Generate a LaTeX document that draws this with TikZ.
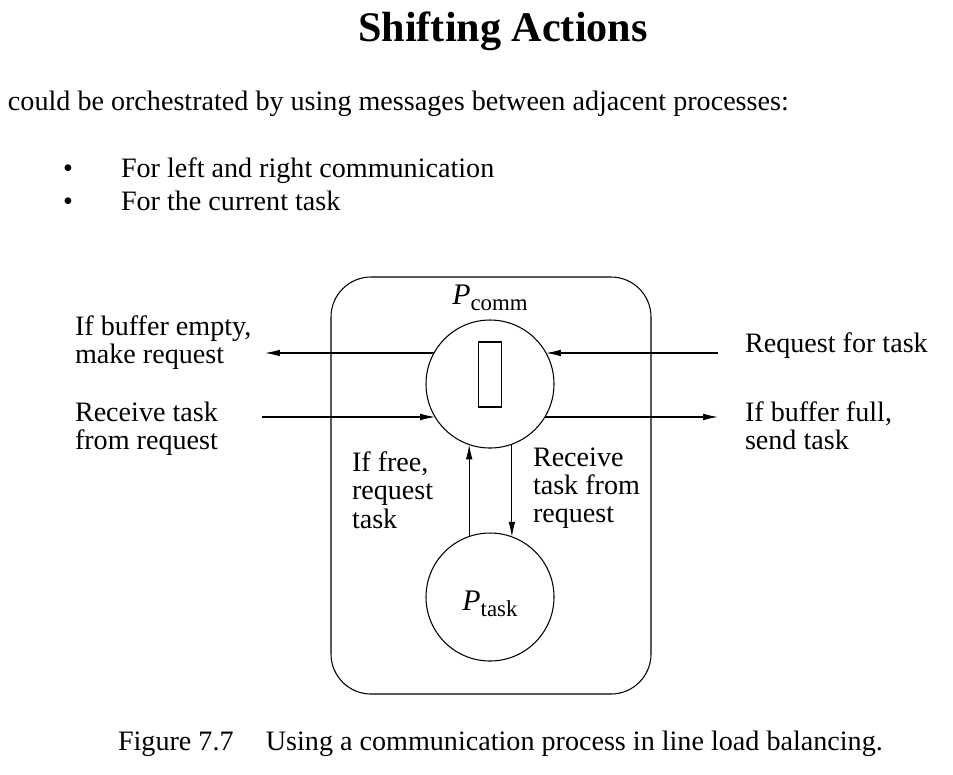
\documentclass[tikz,border=0pt]{standalone}
\usepackage{fontspec}
\setmainfont{Liberation Serif}
\usepackage{tikz}
\usetikzlibrary{arrows.meta,positioning,calc}

\newcommand{\procname}[1]{\textit{P}\raisebox{-0.45ex}{\fontsize{13}{13}\selectfont #1}}

\begin{document}
\begin{tikzpicture}[
  x=0.2mm, y=-0.2mm,
  every node/.style={inner sep=0pt, outer sep=0pt},
  txt/.style ={font=\fontsize{16}{16}\selectfont, align=left, anchor=base west},
  lbl/.style ={font=\fontsize{16}{16}\selectfont, align=left, anchor=north west},
  proc/.style={circle, draw, line width=0.6pt, minimum size=25.6mm},
  slot/.style={rectangle, draw, line width=0.6pt, minimum width=4.6mm, minimum height=13mm},
  frm/.style ={rectangle, draw, rounded corners=8mm, line width=0.6pt,
               minimum width=64mm, minimum height=83.4mm},
  arr/.style ={line width=0.6pt, -{Latex[length=8.5pt,width=3.8pt]}}
]
\useasboundingbox (0,0) rectangle (953,774);

%% heading and text
\node[font=\fontsize{24}{28}\selectfont\bfseries, anchor=base] (ttl) at (503,41) {Shifting Actions};
\node[txt] (intro) at (8,110) {could be orchestrated by using messages between adjacent processes:};
\node[txt, anchor=base] (b1) at (68,177) {\textbullet};
\node[txt] (t1) at (121,177) {For left and right communication};
\node[txt, anchor=base] (b2) at (68,210) {\textbullet};
\node[txt] (t2) at (121,210) {For the current task};

%% processes
\node[frm] (frame) at (491,485.5) {};
\node[proc] (comm) at (490,384) {};
\node[slot] (buf) at (490,374.5) {};
\node[proc] (task) at (490,597) {};
\node[font=\fontsize{17}{17}\selectfont, anchor=base] (pc) at (490,304) {\procname{comm}};
\node[font=\fontsize{17}{17}\selectfont, anchor=base] (pt) at (490,610) {\procname{task}};

%% free ends
\coordinate (lout) at (265,353);
\coordinate (lin)  at (262,417);
\coordinate (rin)  at (718,353);
\coordinate (rout) at (718,417);

%% messages
\draw[arr] (comm.151) -- (comm.151 -| lout);
\draw[arr] (comm.211 -| lin) -- (comm.211);
\draw[arr] (comm.29 -| rin) -- (comm.29);
\draw[arr] (comm.-31) -- (comm.-31 -| rout);
\draw[arr] (comm.-109 |- task.110) -- (comm.-109);
\draw[arr] (comm.-70) -- (comm.-70 |- task.70);

%% labels
\node[lbl] (l1) at (75,316) {If buffer empty,\\make request};
\node[lbl] (l2) at (75,402) {Receive task\\from request};
\node[lbl] (r1) at (745,333) {Request for task};
\node[lbl] (r2) at (745,402) {If buffer full,\\send task};
\node[lbl] (m1) at (352,452) {If free,\\request\\task};
\node[lbl] (m2) at (533,448) {Receive\\task from\\request};

%% caption
\node[txt] (cap) at (118,750) {Figure 7.7\hspace{1.15em}Using a communication process in line load balancing.};
\end{tikzpicture}
\end{document}
